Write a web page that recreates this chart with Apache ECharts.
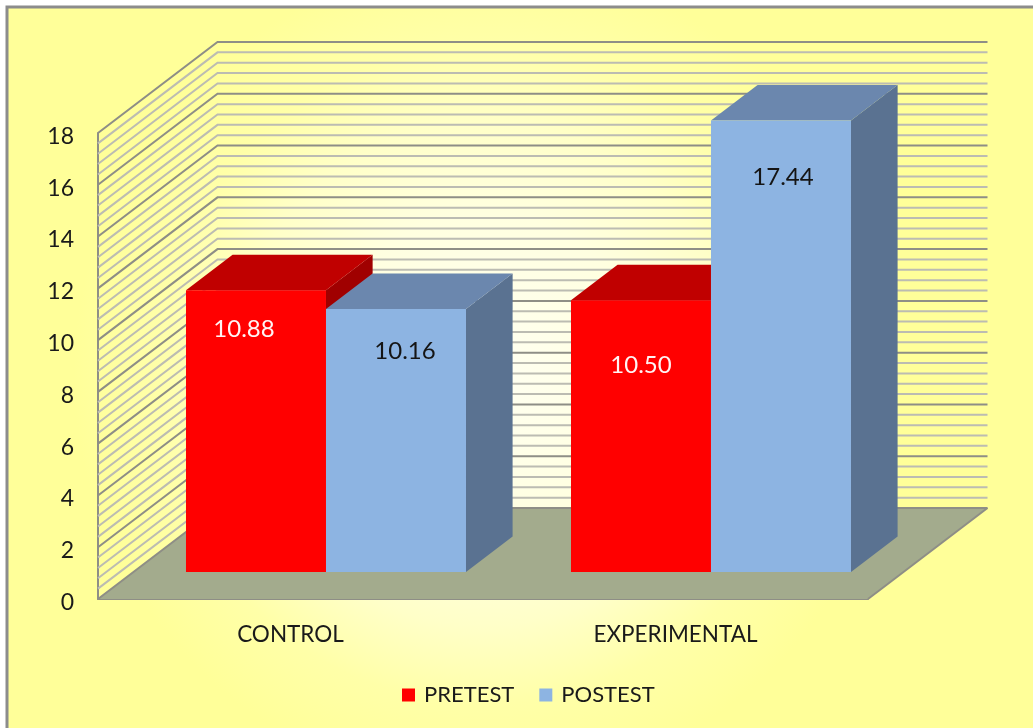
<!DOCTYPE html>
<html>
<head>
<meta charset="utf-8">
<style>html,body{margin:0;padding:0;background:#fff}#c{width:1033px;height:728px}</style>
<script src="https://cdn.jsdelivr.net/npm/echarts@6/dist/echarts.min.js"></script>
</head>
<body>
<div id="c"></div>
<script>
const categories = ['CONTROL', 'EXPERIMENTAL'];
const pretest = [10.88, 10.50];
const posttest = [10.16, 17.44];
const pretestLabels = ['10.88', '10.50'];
const posttestLabels = ['10.16', '17.44'];
const yTicks = {min: 0, max: 18, major: 2};
const wallValues = [0,0.4,0.8,1.2,1.6,2,2.4,2.8,3.2,3.6,4,4.4,4.8,5.2,5.6,6,6.4,6.8,7.2,7.6,8,8.4,8.8,9.2,9.6,10,10.4,10.8,11.2,11.6,12,12.4,12.8,13.2,13.6,14,14.4,14.8,15.2,15.6,16,16.4,16.8,17.2,17.6,18];

// 3D projection, in pixels from the front plane
const DEPTH = {x: 119.5, y: -91};
const BAR_FRONT = 0.297, BAR_BACK = 0.687;
const FAMILY = 'Lato, Carlito, sans-serif';
const FONT = '24px ' + FAMILY;
const labelNudgePre = [[-12, 39], [0, 65]];
const labelNudgePost = [[9, 42], [2, 57]];
const pretestColors = {front: '#ff0000', top: '#c00000', side: '#a00000', text: '#fff4f4'};
const posttestColors = {front: '#8db4e2', top: '#6b87ae', side: '#5a7291', text: '#151515'};

function shift(p, f) { return [p[0] + DEPTH.x * f, p[1] + DEPTH.y * f]; }
function poly(points, fill) {
  return {type: 'polygon', shape: {points: points}, style: {fill: fill}};
}
function barRenderer(side, colors, labels, nudges) {
  return function (params, api) {
    const i = api.value(0);
    const band = api.size([1, 0])[0];
    const w = band / 2.75;
    const c0 = api.coord([i, 0]);
    const c1 = api.coord([i, api.value(1)]);
    const xl = side < 0 ? c0[0] - w : c0[0];
    const xr = xl + w;
    const fbl = shift([xl, c0[1]], BAR_FRONT), fbr = shift([xr, c0[1]], BAR_FRONT);
    const ftl = shift([xl, c1[1]], BAR_FRONT), ftr = shift([xr, c1[1]], BAR_FRONT);
    const bbr = shift([xr, c0[1]], BAR_BACK);
    const btl = shift([xl, c1[1]], BAR_BACK), btr = shift([xr, c1[1]], BAR_BACK);
    return {type: 'group', children: [
      poly([fbr, bbr, btr, ftr], colors.side),
      poly([ftl, ftr, btr, btl], colors.top),
      poly([ftl, ftr, fbr, fbl], colors.front),
      {type: 'text', style: {
        text: labels[i], x: (xl + xr) / 2 + DEPTH.x * BAR_FRONT + nudges[i][0],
        y: ftl[1] + nudges[i][1], align: 'center', verticalAlign: 'middle',
        font: FONT, fill: colors.text
      }}
    ]};
  };
}
function wallRenderer(params, api) {
  const v = api.value(0);
  const cs = params.coordSys;
  const front = [cs.x, api.coord([0, v])[1]];
  const back = shift(front, 1);
  const end = [back[0] + cs.width, back[1]];
  const major = v % yTicks.major === 0;
  return {type: 'polyline', shape: {points: [front, back, end]},
    style: {fill: null, stroke: major ? '#8e8e86' : '#bcbcb2', lineWidth: 2}};
}
function floorRenderer(params, api) {
  const cs = params.coordSys;
  const y = api.coord([0, 0])[1];
  const a = [cs.x, y], b = [cs.x + cs.width, y];
  return {type: 'group', children: [
    poly([a, b, shift(b, 1), shift(a, 1)], '#a3ab8d'),
    {type: 'line', shape: {x1: b[0], y1: b[1], x2: shift(b, 1)[0], y2: shift(b, 1)[1]},
      style: {stroke: '#8e8e86', lineWidth: 2}}
  ]};
}

const chart = echarts.init(document.getElementById('c'), null, {renderer: 'canvas'});
chart.setOption({
  animation: false,
  backgroundColor: '#ffffff',
  graphic: [{
    type: 'rect', z: -10, silent: true,
    shape: {x: 7, y: 7, width: 1040, height: 735},
    style: {
      fill: {type: 'radial', x: 0.46, y: 0.5, r: 0.62, colorStops: [
        {offset: 0, color: '#fffff2'}, {offset: 0.35, color: '#ffffe0'}, {offset: 0.55, color: '#ffffc8'}, {offset: 0.72, color: '#ffffa8'}, {offset: 0.9, color: '#ffff99'}, {offset: 1, color: '#ffff99'}
      ]},
      stroke: '#8c8c8c', lineWidth: 3
    }
  }],
  grid: {left: 98, right: 165, top: 133, bottom: 129},
  xAxis: {
    type: 'category', data: categories,
    axisTick: {show: false},
    axisLine: {show: true, lineStyle: {color: '#8e8e86', width: 2}},
    axisLabel: {color: '#1a1a1a', fontSize: 22.5, fontFamily: FAMILY, margin: 24}
  },
  yAxis: {
    type: 'value', min: yTicks.min, max: yTicks.max, interval: yTicks.major,
    splitLine: {show: false}, axisTick: {show: false},
    axisLine: {show: true, lineStyle: {color: '#8e8e86', width: 2}},
    axisLabel: {color: '#1a1a1a', fontSize: 23, fontFamily: FAMILY, margin: 24, verticalAlign: 'top', lineHeight: 7}
  },
  legend: {
    data: ['PRETEST', 'POSTEST'], left: 402, top: 684, padding: 0, icon: 'rect',
    itemWidth: 13, itemHeight: 13, itemGap: 25, selectedMode: false,
    textStyle: {color: '#1a1a1a', fontSize: 22, fontFamily: FAMILY, padding: [0, 0, 0, 4]}
  },
  series: [
    {type: 'custom', name: 'floor', silent: true, z: 1, data: [[0]], renderItem: floorRenderer},
    {type: 'custom', name: 'wall', silent: true, z: 2, data: wallValues.map(v => [v]), encode: {}, renderItem: wallRenderer},
    {type: 'custom', name: 'PRETEST', z: 3, itemStyle: {color: pretestColors.front},
      data: pretest.map((v, i) => [i, v]), encode: {x: 0, y: 1},
      renderItem: barRenderer(-1, pretestColors, pretestLabels, labelNudgePre)},
    {type: 'custom', name: 'POSTEST', z: 4, itemStyle: {color: posttestColors.front},
      data: posttest.map((v, i) => [i, v]), encode: {x: 0, y: 1},
      renderItem: barRenderer(1, posttestColors, posttestLabels, labelNudgePost)}
  ]
});
</script>
</body>
</html>
